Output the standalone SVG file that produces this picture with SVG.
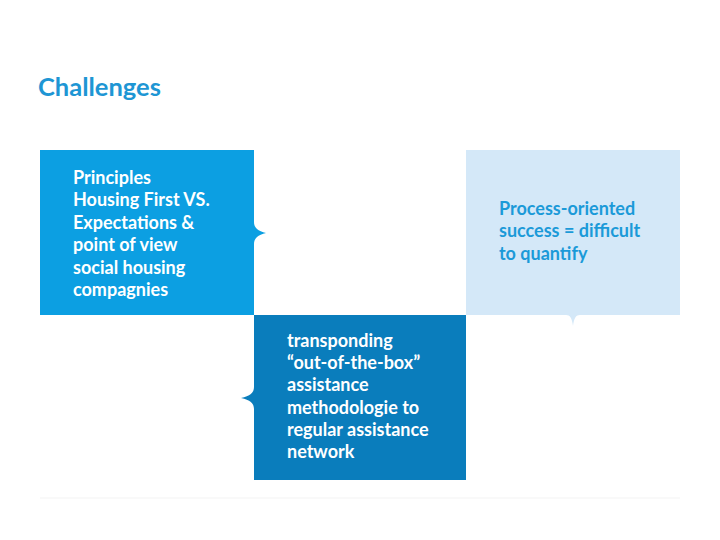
<svg xmlns="http://www.w3.org/2000/svg" width="720" height="540" viewBox="0 0 720 540">
<style>
.t{font-family:Lato,"Liberation Sans",sans-serif;font-weight:bold;font-size:18px}
.w{fill:#ffffff}
.b{fill:#1b9ad8}
</style>
<rect width="720" height="540" fill="#ffffff"/>
<text x="38" y="96" font-family="Lato,'Liberation Sans',sans-serif" font-size="25.5" font-weight="bold" fill="#1e96d4">Challenges</text>
<line x1="40" y1="498" x2="680" y2="498" stroke="#f7f7f7" stroke-width="1.5"/>
<g id="connectors"></g>
<g id="node1">
<path d="M40,150 H254 V222 C254,228 258,231 266,233 C258,235 254,238 254,244 V315 H40 Z" fill="#0c9fe2"/>
<text class="t w" x="73" y="184">Principles</text>
<text class="t w" x="73" y="206">Housing First VS.</text>
<text class="t w" x="73" y="229">Expectations &amp;</text>
<text class="t w" x="73" y="251">point of view</text>
<text class="t w" x="73" y="274">social housing</text>
<text class="t w" x="73" y="296">compagnies</text>
</g>
<g id="node2">
<path d="M254,315 H466 V480 H254 V409 C254,403 250,400 241,398 C250,396 254,393 254,387 Z" fill="#0a7dbc"/>
<text class="t w" x="287" y="347">transponding</text>
<text class="t w" x="287" y="369">“out-of-the-box”</text>
<text class="t w" x="287" y="391">assistance</text>
<text class="t w" x="287" y="414">methodologie to</text>
<text class="t w" x="287" y="436">regular assistance</text>
<text class="t w" x="287" y="458">network</text>
</g>
<g id="node3">
<path d="M466,150 H680 V315 H580 C576,315 574,318 573,326 C572,318 570,315 566,315 H466 Z" fill="#d4e8f8"/>
<text class="t b" x="499" y="215">Process-oriented</text>
<text class="t b" x="499" y="237">success = difficult</text>
<text class="t b" x="499" y="260">to quantify</text>
</g>
</svg>
